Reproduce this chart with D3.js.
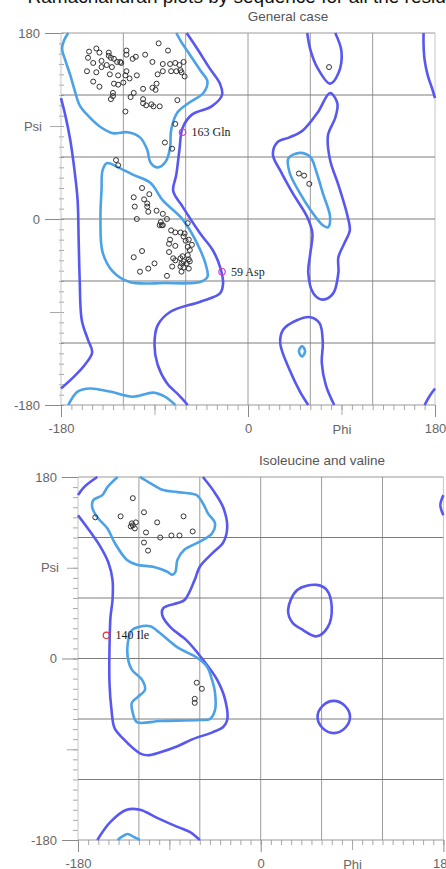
<!DOCTYPE html>
<html>
<head>
<meta charset="utf-8">
<script src="https://cdn.jsdelivr.net/npm/d3@7"></script>
<style>
  body { margin: 0; background: #fff; }
  svg { display: block; font-family: "Liberation Sans", Arial, sans-serif; }
</style>
</head>
<body>
<svg id="chart" width="446" height="869"></svg>
<script>
// ---- data (degrees) ----
const gridAngles = [-180, -120, -60, 0, 60, 120, 180];
const labelledAngles = [-180, 0, 180];
const midAngles = [-90, 90];
const minorAngles = d3.range(-180, 181, 10);
const axisTitles = { x: "Phi", y: "Psi" };
const pageTitle = "Ramachandran plots by sequence for all the residues";

// General case: residues [phi, psi]
const generalResidues = [
  [-146,165],[-153,162],[-143,161],[-134,161],[-117,163],[-86,170],[-77,163],[-154,156],[-134,158],[-132,156],
  [-117,159],[-108,157],[-111,155],[-99,159],[-129,155],[-126,152],[-123,152],[-122,151],[-92,152],[-149,151],
  [-141,153],[-136,149],[-141,147],[-131,147],[-82,150],[-75,150],[-70,151],[-66,149],[-62,152],[-155,143],
  [-146,142],[-133,140],[-125,139],[-117,143],[-118,139],[-114,136],[-107,139],[-87,140],[-82,143],[-74,143],
  [-69,143],[-65,144],[-64,142],[-61,138],[-149,133],[-143,128],[-129,131],[-125,130],[-120,132],[-101,126],
  [-92,127],[-88,131],[-89,125],[-130,122],[-130,119],[-132,116],[-110,122],[-113,118],[-101,116],[-101,112],
  [-98,110],[-93,111],[-91,109],[-85,109],[-68,115],[-118,104],[-70,92],[-80,74],[-73,68],
  [-127,57],[-125,52],[-102,30],[-95,24],[-110,21],[-100,19],[-97,15],[-97,12],[-109,12],[-96,7],
  [-88,8],[-82,5],[-107,0],[-84,-3],[-78,0],[-83,-6],[-85,-6],[-82,-6],[-58,-4],[-74,-11],
  [-70,-13],[-65,-13],[-61,-14],[-62,-17],[-75,-20],[-60,-21],[-57,-20],[-54,-25],[-76,-24],[-58,-27],
  [-70,-26],[-102,-31],[-76,-32],[-56,-30],[-110,-37],[-90,-43],[-72,-38],[-70,-40],[-65,-38],[-63,-36],
  [-58,-35],[-57,-39],[-62,-41],[-64,-43],[-59,-43],[-56,-41],[-65,-46],[-62,-47],[-57,-48],[-73,-46],
  [-96,-48],[-104,-51],[-64,-51],[-78,-55],
  [49,44],[54,42],[59,34],[78,147]
];
const generalOutliers = [
  { phi: -63, psi: 84, label: "163 Gln" },
  { phi: -25, psi: -51, label: "59 Asp" }
];
// outer (allowed) contours
const generalOuter = [
  { closed: false, pts: [[-59,180],[-49,165],[-37,146],[-27,131],[-25,120],[-35,109],[-54,101],[-63,88],[-66,67],[-69,43],[-72,27],[-63,12],[-46,-14],[-34,-30],[-27,-46],[-24,-62],[-27,-72],[-46,-80],[-75,-90],[-87,-103],[-90,-122],[-87,-141],[-78,-159],[-67,-170],[-58,-180]] },
  { closed: false, pts: [[-180,117],[-176,101],[-171,76],[-167,47],[-164,18],[-163,-20],[-162,-59],[-160,-98],[-154,-117],[-150,-129],[-157,-141],[-169,-154],[-180,-164]] },
  { closed: false, pts: [[180,-164],[175,-171],[170,-180]] },
  { closed: false, pts: [[169,180],[169,168],[170,154],[173,139],[177,127],[180,117]] },
  { closed: false, pts: [[57,180],[60,164],[67,146],[79,131],[87,141],[90,162],[84,180]] },
  { closed: false, pts: [[58,-180],[50,-167],[40,-146],[31,-120],[34,-107],[47,-98],[60,-95],[69,-101],[72,-120],[71,-139],[75,-161],[83,-180]] },
  { closed: true, pts: [[79,122],[86,112],[84,98],[77,81],[79,57],[87,33],[96,2],[98,-11],[93,-23],[87,-37],[87,-52],[82,-72],[72,-78],[63,-72],[58,-52],[60,-33],[62,-14],[57,2],[43,25],[31,47],[24,62],[28,74],[40,79],[53,86],[67,103]] }
];
// core (favoured) contours
const generalCore = [
  { closed: false, pts: [[-173,180],[-177,173],[-179,165],[-176,154],[-171,139],[-167,125],[-162,110],[-154,100],[-142,89],[-130,83],[-116,84],[-104,79],[-97,67],[-94,55],[-87,50],[-79,56],[-75,69],[-74,86],[-68,103],[-56,113],[-43,122],[-39,133],[-46,144],[-56,159],[-64,171],[-69,180]] },
  { closed: false, pts: [[-173,-180],[-164,-167],[-152,-164],[-133,-167],[-111,-172],[-91,-168],[-80,-172],[-70,-180]] },
  { closed: true, pts: [[-136,54],[-123,49],[-111,43],[-94,35],[-82,18],[-65,2],[-54,-14],[-46,-30],[-41,-43],[-39,-56],[-46,-61],[-80,-62],[-114,-61],[-130,-51],[-140,-32],[-142,2],[-141,28],[-140,47]] },
  { closed: true, pts: [[39,59],[50,64],[60,60],[66,45],[72,25],[79,2],[77,-8],[72,-6],[60,9],[50,25],[40,45]] },
  { closed: true, pts: [[49,-128],[52,-123],[55,-128],[52,-133]] }
];

// Isoleucine and valine
const ileValResidues = [
  [-126,159],[-163,140],[-138,141],[-115,145],[-102,135],[-76,141],[-127,134],[-126,132],[-128,131],[-123,135],
  [-124,129],[-113,125],[-99,120],[-88,122],[-80,122],[-67,126],[-115,115],[-111,107],
  [-63,-24],[-58,-30],[-65,-40],[-65,-44]
];
const ileValOutliers = [
  { phi: -152, psi: 23, label: "140 Ile" }
];
const ileValOuter = [
  { closed: false, pts: [[-57,180],[-47,167],[-37,150],[-33,130],[-37,115],[-47,105],[-60,91],[-65,78],[-75,58],[-82,55],[-96,50],[-97,43],[-89,31],[-73,18],[-57,-1],[-43,-21],[-35,-41],[-33,-61],[-37,-68],[-47,-73],[-67,-80],[-82,-87],[-99,-93],[-111,-96],[-119,-94],[-136,-79],[-144,-69],[-147,-51],[-149,-24],[-149,8],[-148,41],[-146,58],[-146,78],[-150,95],[-158,111],[-171,130],[-180,142]] },
  { closed: false, pts: [[-180,162],[-174,170],[-161,180]] },
  { closed: false, pts: [[180,162],[177,152],[180,142]] },
  { closed: false, pts: [[-161,-180],[-148,-162],[-132,-150],[-119,-150],[-102,-158],[-82,-167],[-70,-172],[-60,-180]] },
  { closed: true, pts: [[27,48],[36,68],[55,73],[65,68],[70,51],[66,31],[55,22],[42,28],[31,36]] },
  { closed: true, pts: [[72,-42],[83,-47],[88,-58],[83,-69],[72,-74],[61,-69],[56,-58],[61,-47]] }
];
const ileValCore = [
  { closed: false, pts: [[-141,180],[-151,170],[-156,162],[-165,157],[-166,150],[-161,140],[-151,129],[-144,115],[-132,98],[-122,93],[-106,91],[-92,86],[-87,83],[-84,86],[-82,98],[-75,108],[-60,116],[-48,124],[-45,134],[-52,144],[-57,154],[-63,162],[-82,165],[-96,167],[-109,174],[-119,180]] },
  { closed: false, pts: [[-141,-180],[-137,-177],[-131,-174],[-125,-177],[-119,-180]] },
  { closed: true, pts: [[-121,31],[-109,32],[-99,25],[-82,11],[-63,1],[-53,-8],[-48,-21],[-45,-34],[-45,-51],[-50,-60],[-60,-61],[-99,-62],[-122,-63],[-126,-54],[-127,-44],[-121,-38],[-114,-31],[-117,-21],[-127,-11],[-131,1],[-131,15],[-127,28]] }
];

// ---- layout ----
const panels = [
  { id: "gc", title: "General case", titleX: 288, titleY: 21,
    left: 61, right: 435, top: 33, bottom: 405, leftTickShift: 3,
    residues: generalResidues, outliers: generalOutliers, outlierColor: "#d23ad2",
    outer: generalOuter, core: generalCore },
  { id: "iv", title: "Isoleucine and valine", titleX: 322, titleY: 465,
    left: 78, right: 443.4, top: 477, bottom: 840, leftTickShift: 0,
    residues: ileValResidues, outliers: ileValOutliers, outlierColor: "#f03030",
    outer: ileValOuter, core: ileValCore }
];

const outerColor = "#5858f0",
  coreColor = "#4ca2e6",
  labelColor = "#666";

const svg = d3.select("#chart");

// page heading, cut off by the top edge as in the screenshot
svg.append("text")
  .attr("x", 252).attr("y", 3)
  .attr("text-anchor", "middle")
  .style("font-size", "19px")
  .style("fill", "#111")
  .text(pageTitle);

panels.forEach(p => drawPanel(p));

function styleAxis(g, color) {
  g.select(".domain").remove();
  g.selectAll(".tick line").attr("stroke", color);
  g.selectAll("text").style("font-size", "13px").style("font-family", '"Liberation Sans", Arial, sans-serif').attr("fill", labelColor);
}

function drawPanel(p) {
  const x = d3.scaleLinear().domain([-180, 180]).range([p.left, p.right]);
  const y = d3.scaleLinear().domain([-180, 180]).range([p.bottom, p.top]);
  const g = svg.append("g");

  // title
  g.append("text")
    .attr("x", p.titleX).attr("y", p.titleY)
    .attr("text-anchor", "middle")
    .style("font-size", "13.5px")
    .style("fill", "#555")
    .text(p.title);

  // minor ticks
  g.append("g")
    .attr("transform", `translate(0,${p.bottom})`)
    .call(d3.axisBottom(x).tickValues(minorAngles).tickSize(5).tickFormat(""))
    .call(a => styleAxis(a, "#a8a8a8"));
  g.append("g")
    .attr("transform", `translate(${p.left + p.leftTickShift},0)`)
    .call(d3.axisLeft(y).tickValues(minorAngles).tickSize(5).tickFormat(""))
    .call(a => styleAxis(a, "#a8a8a8"));

  // mid ticks (+-90) with axis titles
  g.append("g")
    .attr("transform", `translate(0,${p.bottom})`)
    .call(d3.axisBottom(x).tickValues(midAngles).tickSize(10).tickFormat(d => d === 90 ? axisTitles.x : ""))
    .call(a => styleAxis(a, "#a8a8a8"))
    .call(a => a.selectAll("text").attr("y", 29).attr("dy", null));
  g.append("g")
    .attr("transform", `translate(${p.left},0)`)
    .call(d3.axisLeft(y).tickValues(midAngles).tickSize(11).tickFormat(d => d === 90 ? axisTitles.y : ""))
    .call(a => styleAxis(a, "#a8a8a8"))
    .call(a => a.selectAll("text").attr("x", -19));

  // labelled ticks
  g.append("g")
    .attr("transform", `translate(0,${p.bottom})`)
    .call(d3.axisBottom(x).tickValues(labelledAngles).tickSize(12).tickFormat(d => String(d)))
    .call(a => styleAxis(a, "#8a8a8a"))
    .call(a => a.selectAll("text").attr("y", 28).attr("dy", null));
  g.append("g")
    .attr("transform", `translate(${p.left},0)`)
    .call(d3.axisLeft(y).tickValues(labelledAngles).tickSize(16).tickFormat(d => String(d)))
    .call(a => styleAxis(a, "#8a8a8a"))
    .call(a => a.selectAll("text").attr("x", -21));

  // grid
  g.append("g").selectAll("line")
    .data(gridAngles)
    .join("line")
    .attr("x1", d => x(d)).attr("x2", d => x(d))
    .attr("y1", p.top).attr("y2", p.bottom)
    .attr("stroke", d => Math.abs(d) === 180 ? "#c6c6c6" : "#9c9c9c");
  g.append("g").selectAll("line")
    .data(gridAngles)
    .join("line")
    .attr("x1", p.left).attr("x2", p.right)
    .attr("y1", d => y(d)).attr("y2", d => y(d))
    .attr("stroke", d => Math.abs(d) === 180 ? "#999" : "#7c7c7c");

  // contours, clipped to the plot
  svg.append("clipPath").attr("id", "clip-" + p.id)
    .append("rect")
    .attr("x", p.left - 1).attr("y", p.top - 1)
    .attr("width", p.right - p.left + 3).attr("height", p.bottom - p.top + 2);

  const lineOpen = d3.line().x(d => x(d[0])).y(d => y(d[1])).curve(d3.curveCatmullRom.alpha(0.5));
  const lineClosed = d3.line().x(d => x(d[0])).y(d => y(d[1])).curve(d3.curveCatmullRomClosed.alpha(0.5));

  const contours = g.append("g").attr("clip-path", `url(#clip-${p.id})`);
  contours.selectAll("path.outer")
    .data(p.outer)
    .join("path")
    .attr("class", "outer")
    .attr("d", d => (d.closed ? lineClosed : lineOpen)(d.pts))
    .attr("fill", "none")
    .attr("stroke", outerColor)
    .attr("stroke-width", 2.6)
    .attr("stroke-linejoin", "round");
  contours.selectAll("path.core")
    .data(p.core)
    .join("path")
    .attr("class", "core")
    .attr("d", d => (d.closed ? lineClosed : lineOpen)(d.pts))
    .attr("fill", "none")
    .attr("stroke", coreColor)
    .attr("stroke-width", 2.6)
    .attr("stroke-linejoin", "round");

  // residues
  g.append("g").selectAll("circle")
    .data(p.residues)
    .join("circle")
    .attr("cx", d => x(d[0]))
    .attr("cy", d => y(d[1]))
    .attr("r", 2.5)
    .attr("fill", "none")
    .attr("stroke", "#333")
    .attr("stroke-width", 1);

  // outliers with labels
  const out = g.append("g").selectAll("g")
    .data(p.outliers)
    .join("g");
  out.append("circle")
    .attr("cx", d => x(d.phi))
    .attr("cy", d => y(d.psi))
    .attr("r", 3.2)
    .attr("fill", "none")
    .attr("stroke", p.outlierColor)
    .attr("stroke-width", 1.2);
  out.append("text")
    .attr("x", d => x(d.phi) + 9)
    .attr("y", d => y(d.psi) + 4)
    .style("font-family", '"Liberation Serif", "Times New Roman", serif')
    .style("font-size", "12px")
    .style("fill", "#222")
    .text(d => d.label);
}
</script>
</body>
</html>
